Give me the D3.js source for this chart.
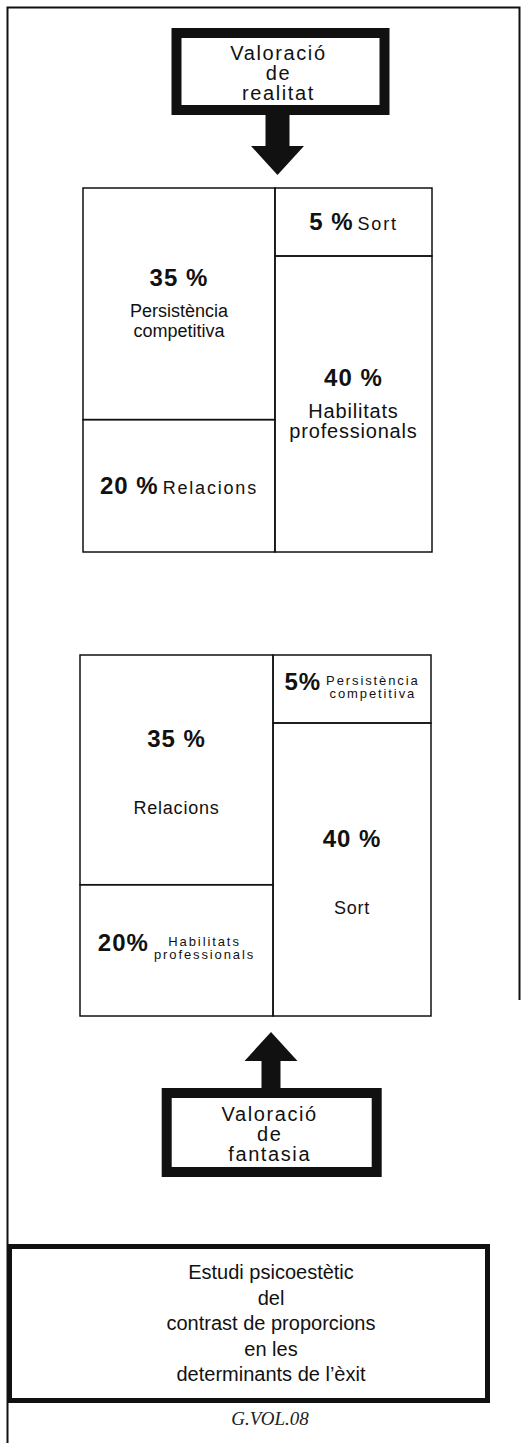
<!DOCTYPE html>
<html>
<head>
<meta charset="utf-8">
<script src="https://cdn.jsdelivr.net/npm/d3@7"></script>
<style>
body { margin: 0; background: #fff; }
svg { display: block; }
</style>
</head>
<body>
<script>
// dades dels dos quadres (percentatges de cada determinant)
var realCats = ["Persistència competitiva", "Relacions", "Sort", "Habilitats professionals"];
var realVals = [35, 20, 5, 40];
var fantCats = ["Relacions", "Habilitats professionals", "Persistència competitiva", "Sort"];
var fantVals = [35, 20, 5, 40];
var columns = [0, 0, 1, 1];   // columna de cada cel·la

var boxTop = ["Valoració", "de", "realitat"];
var boxBottom = ["Valoració", "de", "fantasia"];
var footLines = ["Estudi psicoestètic", "del", "contrast de proporcions", "en les", "determinants de l’èxit"];
var signature = "G.VOL.08";

var width = 521, height = 1443;
var ink = "#111";
var sans = "'Liberation Sans', Arial, Helvetica, sans-serif";

var svg = d3.select("body").append("svg")
    .attr("width", width)
    .attr("height", height);

// marc exterior
svg.append("path")
    .attr("d", "M7.5,1443V7.5H519.5V1000")
    .attr("fill", "none")
    .attr("stroke", ink)
    .attr("stroke-width", 2);

function labelBox(cx, y0, w, h, lines, first) {
  var g = svg.append("g");
  g.append("rect")
      .attr("x", cx - w / 2 + 5)
      .attr("y", y0 + 5)
      .attr("width", w - 10)
      .attr("height", h - 10)
      .attr("fill", "#fff")
      .attr("stroke", ink)
      .attr("stroke-width", 10);
  g.selectAll("text").data(lines).enter().append("text")
      .attr("x", cx - 2)
      .attr("y", function(d, i) { return y0 + first + i * 20; })
      .attr("text-anchor", "middle")
      .style("font-family", sans)
      .style("font-size", "20px")
      .style("letter-spacing", "1.6px")
      .style("fill", ink)
      .text(function(d) { return d; });
}

// fletxa: de yFrom (cua) a yTip (punta)
function arrow(cx, yFrom, yBase, yTip, shaftW, headW) {
  var p = d3.path();
  p.moveTo(cx - shaftW / 2, yFrom);
  p.lineTo(cx - shaftW / 2, yBase);
  p.lineTo(cx - headW / 2, yBase);
  p.lineTo(cx, yTip);
  p.lineTo(cx + headW / 2, yBase);
  p.lineTo(cx + shaftW / 2, yBase);
  p.lineTo(cx + shaftW / 2, yFrom);
  p.closePath();
  svg.append("path").attr("d", p.toString()).attr("fill", ink);
}

// cel·les: columnes per valor, files per valor amb una alçada mínima
var minCell = 68;
function tile(node, x0, y0, x1, y1) {
  if (!node.depth) return d3.treemapDice(node, x0, y0, x1, y1);
  var h = y1 - y0, fixed = 0, rest = 0;
  var raw = node.children.map(function(c) { return c.value / node.value * h; });
  raw.forEach(function(s, i) {
    if (s < minCell) fixed += minCell; else rest += node.children[i].value;
  });
  var y = y0;
  node.children.forEach(function(c, i) {
    var s = raw[i] < minCell ? minCell : c.value / rest * (h - fixed);
    c.x0 = x0; c.x1 = x1;
    c.y0 = y; c.y1 = y += s;
  });
}

function drawMap(cats, vals, box, opt) {
  var leaves = cats.map(function(name, i) { return {name: name, value: vals[i], col: columns[i]}; });
  var root = d3.hierarchy({children: [0, 1].map(function(c) {
        return {children: leaves.filter(function(d) { return d.col === c; })};
      })})
      .sum(function(d) { return d.children ? 0 : d.value; });

  d3.treemap()
      .size([box.x1 - box.x0, box.y1 - box.y0])
      .tile(tile)(root);

  var g = svg.append("g")
      .attr("transform", "translate(" + box.x0 + "," + box.y0 + ")");

  var cell = g.selectAll("g")
      .data(root.leaves())
      .enter().append("g");

  cell.append("rect")
      .attr("x", function(d) { return d.x0; })
      .attr("y", function(d) { return d.y0; })
      .attr("width", function(d) { return d.x1 - d.x0; })
      .attr("height", function(d) { return d.y1 - d.y0; })
      .attr("fill", "none")
      .attr("stroke", ink)
      .attr("stroke-width", 1.5);

  cell.each(function(d) {
    var el = d3.select(this);
    var cx = (d.x0 + d.x1) / 2, cy = (d.y0 + d.y1) / 2;
    var big = d.y1 - d.y0 > 150;
    var pct = d.data.value + (big || opt.spaced ? " %" : "%");

    var num = el.append("text")
        .style("font-family", sans)
        .style("font-weight", "bold")
        .style("font-size", "24px")
        .style("letter-spacing", "1px")
        .style("fill", ink)
        .text(pct);

    if (big) {
      num.attr("x", cx).attr("y", cy + opt.pctDy).attr("text-anchor", "middle");
      var st = opt.stack[d.data.col];
      d.data.name.split(" ").forEach(function(t, i) {
        el.append("text")
            .attr("x", cx)
            .attr("y", cy + opt.lineDy + i * opt.lineStep)
            .attr("text-anchor", "middle")
            .style("font-family", sans)
            .style("font-size", st.size + "px")
            .style("letter-spacing", st.ls + "px")
            .style("fill", ink)
            .text(t);
      });
      return;
    }

    var w1 = num.node().getComputedTextLength();
    if (!opt.smallInline) {
      var lab = el.append("text")
          .style("font-family", sans)
          .style("font-size", "18px")
          .style("letter-spacing", "1.8px")
          .style("fill", ink)
          .text(d.data.name);
      var w2 = lab.node().getComputedTextLength();
      var x = cx - (w1 + 4 + w2) / 2;
      num.attr("x", x).attr("y", cy + 8);
      lab.attr("x", x + w1 + 4).attr("y", cy + 8);
    } else {
      var parts = d.data.name.split(" ");
      var small = parts.map(function(t, i) {
        return el.append("text")
            .attr("y", cy - 4 + i * 13)
            .attr("text-anchor", "middle")
            .style("font-family", sans)
            .style("font-size", "13px")
            .style("letter-spacing", "1.9px")
            .style("fill", ink)
            .text(t);
      });
      var ws = d3.max(small, function(s) { return s.node().getComputedTextLength(); });
      var xs = cx - (w1 + 5 + ws) / 2;
      num.attr("x", xs).attr("y", cy + 1);
      small.forEach(function(s) { s.attr("x", xs + w1 + 5 + ws / 2); });
    }
  });
}

// part superior: valoració de realitat
labelBox(280.5, 28, 218, 87, boxTop, 32);
arrow(277.5, 112, 146, 175, 24, 53);
drawMap(realCats, realVals, {x0: 83, y0: 188, x1: 432, y1: 552}, {
  spaced: true, smallInline: false,
  pctDy: -18, lineDy: 13.5, lineStep: 20,
  stack: [{size: 18, ls: 0}, {size: 20, ls: 0.8}]
});

// part inferior: valoració de fantasia
drawMap(fantCats, fantVals, {x0: 80, y0: 655, x1: 431, y1: 1016}, {
  spaced: false, smallInline: true,
  pctDy: -23, lineDy: 44, lineStep: 20,
  stack: [{size: 18, ls: 0.8}, {size: 18, ls: 0.8}]
});
arrow(271, 1092, 1061, 1032, 19, 53);
labelBox(271.7, 1088, 220, 89, boxBottom, 33);

// requadre final
svg.append("rect")
    .attr("x", 9.5)
    .attr("y", 1246.5)
    .attr("width", 478)
    .attr("height", 154)
    .attr("fill", "none")
    .attr("stroke", ink)
    .attr("stroke-width", 5);

svg.append("g").selectAll("text")
    .data(footLines)
  .enter().append("text")
    .attr("x", 271)
    .attr("y", function(d, i) { return 1279 + i * 25.6; })
    .attr("text-anchor", "middle")
    .style("font-family", sans)
    .style("font-size", "20px")
    .style("fill", ink)
    .text(function(d) { return d; });

svg.append("text")
    .attr("x", 270)
    .attr("y", 1425)
    .attr("text-anchor", "middle")
    .style("font-family", "'Liberation Serif', 'Times New Roman', serif")
    .style("font-style", "italic")
    .style("font-size", "19px")
    .style("fill", "#222")
    .text(signature);
</script>
</body>
</html>
